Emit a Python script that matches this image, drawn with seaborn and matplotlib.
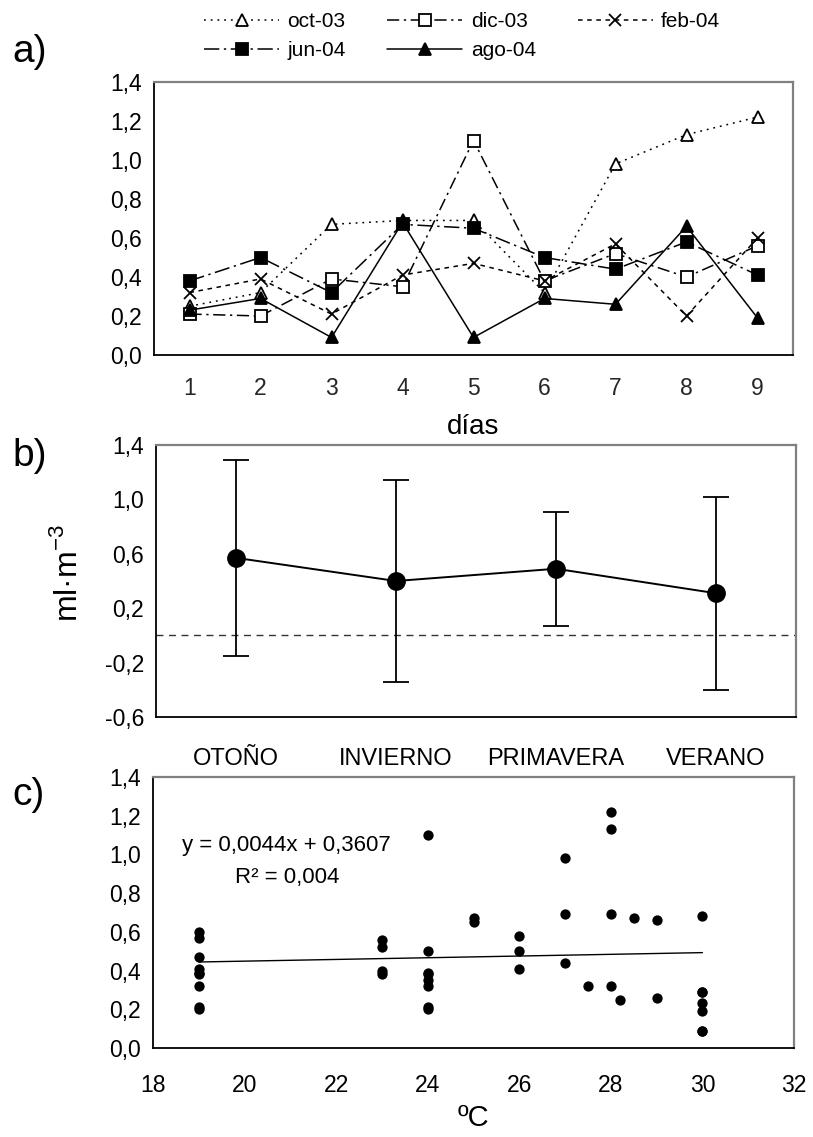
import numpy as np
import pandas as pd
import matplotlib
matplotlib.use("Agg")
import matplotlib.pyplot as plt
from matplotlib.ticker import FuncFormatter, FixedLocator, NullFormatter
import seaborn as sns

# ---- data -------------------------------------------------------------
days = [1, 2, 3, 4, 5, 6, 7, 8, 9]
series_names = ["oct-03", "dic-03", "feb-04", "jun-04", "ago-04"]

oct03 = [0.25, 0.32, 0.67, 0.69, 0.69, 0.32, 0.98, 1.13, 1.22]
dic03 = [0.21, 0.20, 0.39, 0.35, 1.10, 0.38, 0.52, 0.40, 0.56]
feb04 = [0.32, 0.39, 0.21, 0.41, 0.47, 0.38, 0.57, 0.20, 0.60]
jun04 = [0.38, 0.50, 0.32, 0.67, 0.65, 0.50, 0.44, 0.58, 0.41]
ago04 = [0.23, 0.29, 0.09, 0.68, 0.09, 0.29, 0.26, 0.66, 0.19]

# water temperature (ºC) for each sampling day
temp_oct03 = [28.2, 27.5, 28.5, 27, 28, 28, 27, 28, 28]
temp_dic03 = [24, 24, 24, 24, 24, 23, 23, 23, 23]
temp_feb04 = [19, 19, 19, 19, 19, 19, 19, 19, 19]
temp_jun04 = [24, 24, 24, 25, 25, 26, 27, 26, 26]
temp_ago04 = [30, 30, 30, 30, 30, 30, 29, 29, 30]

seasons = ["OTOÑO", "INVIERNO", "PRIMAVERA", "VERANO"]
season_mean = [0.57, 0.40, 0.49, 0.31]
season_sd = [0.72, 0.74, 0.42, 0.71]

fit_slope = 0.0044
fit_intercept = 0.3607
fit_r2 = 0.004

yticks_a = [0.0, 0.2, 0.4, 0.6, 0.8, 1.0, 1.2, 1.4]
yticks_b = [-0.6, -0.2, 0.2, 0.6, 1.0, 1.4]
xticks_c = [18, 20, 22, 24, 26, 28, 30, 32]

# ---- style ------------------------------------------------------------
sns.set_theme(style="white")
plt.rcParams["font.family"] = ["Liberation Sans", "DejaVu Sans"]
plt.rcParams["mathtext.fontset"] = "custom"
plt.rcParams["mathtext.rm"] = "Liberation Sans"
plt.rcParams["text.color"] = "black"
plt.rcParams["axes.labelcolor"] = "black"

TICK_FS = 16.5
W, H = 813, 1137
fig = plt.figure(figsize=(W / 100, H / 100), dpi=100)


def px_axes(left, top, right, bottom):
    return fig.add_axes([left / W, 1 - bottom / H, (right - left) / W, (bottom - top) / H])


def comma(v, _pos=None):
    return f"{v:.1f}".replace(".", ",")


def frame(ax):
    for side in ("left", "bottom"):
        ax.spines[side].set_color("black")
        ax.spines[side].set_linewidth(1.3)
    for side in ("top", "right"):
        ax.spines[side].set_color("#808080")
        ax.spines[side].set_linewidth(1.6)
    ax.tick_params(axis="both", which="major", direction="out", length=5, width=1.1,
                   color="black", labelsize=TICK_FS, labelcolor="black")
    ax.set_facecolor("white")
    ax.grid(False)


# ---- a) daily series --------------------------------------------------
ax_a = px_axes(154, 82, 793, 355)
frame(ax_a)

styles = {
    "oct-03": dict(ls=(0, (1.2, 3.2)), marker="^", mfc="white", ms=8.5),
    "dic-03": dict(ls=(0, (8, 3, 1.5, 3)), marker="s", mfc="white", ms=8.5),
    "feb-04": dict(ls=(0, (3, 3)), marker="x", mfc="black", ms=9),
    "jun-04": dict(ls=(0, (10, 3, 1.5, 3)), marker="s", mfc="black", ms=8.5),
    "ago-04": dict(ls="-", marker="^", mfc="black", ms=9),
}
values = {"oct-03": oct03, "dic-03": dic03, "feb-04": feb04, "jun-04": jun04, "ago-04": ago04}

for name in series_names:
    st = styles[name]
    sns.lineplot(x=days, y=values[name], ax=ax_a, color="black", linewidth=1.1,
                 linestyle=st["ls"], marker=st["marker"], markersize=st["ms"],
                 markerfacecolor=st["mfc"], markeredgecolor="black",
                 markeredgewidth=1.3, errorbar=None, label=name)

leg = ax_a.get_legend()
if leg is not None:
    leg.remove()
handles, labels = ax_a.get_legend_handles_labels()
hmap = dict(zip(labels, handles))
order = ["oct-03", "jun-04", "dic-03", "ago-04", "feb-04"]
fig.legend([hmap[k] for k in order], order, ncol=3, frameon=False,
           loc="upper left", bbox_to_anchor=(204 / W, 1 - 12 / H),
           fontsize=15, handlelength=3.6, handletextpad=0.4,
           columnspacing=2.0, labelspacing=0.5, borderpad=0, borderaxespad=0)

ax_a.set_xlim(0.5, 9.5)
ax_a.set_ylim(0, 1.4)
ax_a.yaxis.set_major_locator(FixedLocator(yticks_a))
ax_a.yaxis.set_major_formatter(FuncFormatter(comma))
ax_a.xaxis.set_major_locator(FixedLocator(np.arange(0.5, 10, 1.0)))
ax_a.xaxis.set_major_formatter(NullFormatter())
ax_a.set_xticks(days, [str(d) for d in days], minor=True)
ax_a.tick_params(axis="x", which="minor", length=0, pad=16, labelsize=TICK_FS)
ax_a.set_xlabel("días", fontsize=20)
ax_a.xaxis.set_label_coords(0.5, -0.215)
ax_a.xaxis.label.set_verticalalignment("top")
ax_a.set_ylabel("")

# ---- b) seasonal means --------------------------------------------------
ax_b = px_axes(156, 445, 796, 717)
frame(ax_b)
pos = np.arange(len(seasons))
ax_b.axhline(0, color="#333333", lw=1.0, ls=(0, (5, 4)), zorder=1)
ax_b.errorbar(pos, season_mean, yerr=season_sd, fmt="none", ecolor="black",
              elinewidth=1.3, capsize=9.5, capthick=1.3, zorder=2)
sns.lineplot(x=pos, y=season_mean, ax=ax_b, color="black", linewidth=1.4,
             marker="o", markersize=12.5, markerfacecolor="black",
             markeredgecolor="black", markeredgewidth=1, errorbar=None, zorder=3)
ax_b.set_xlim(-0.5, 3.5)
ax_b.set_ylim(-0.6, 1.4)
ax_b.yaxis.set_major_locator(FixedLocator(yticks_b))
ax_b.yaxis.set_major_formatter(FuncFormatter(comma))
ax_b.set_xticks(pos, seasons)
ax_b.tick_params(axis="x", length=0, pad=22, labelsize=17)
ax_b.set_xlabel("")
ax_b.set_ylabel("ml·m$^{\\mathregular{-3}}$", fontsize=23)
ax_b.yaxis.set_label_coords(-0.113, 0.53)

# ---- c) scatter vs temperature ----------------------------------------
ax_c = px_axes(153, 777, 794, 1048)
frame(ax_c)
temps = np.concatenate([temp_oct03, temp_dic03, temp_feb04, temp_jun04, temp_ago04])
vals = np.concatenate([oct03, dic03, feb04, jun04, ago04])
df_c = pd.DataFrame({"ºC": temps, "ml": vals})
sns.scatterplot(data=df_c, x="ºC", y="ml", ax=ax_c, color="black", s=55,
                edgecolor="black", linewidth=0, zorder=3)
fx = np.array([temps.min(), temps.max()])
ax_c.plot(fx, fit_slope * fx + fit_intercept, color="black", lw=1.0, zorder=2)
ax_c.set_xlim(18, 32)
ax_c.set_ylim(0, 1.4)
ax_c.xaxis.set_major_locator(FixedLocator(xticks_c))
ax_c.yaxis.set_major_locator(FixedLocator(yticks_a))
ax_c.yaxis.set_major_formatter(FuncFormatter(comma))
ax_c.xaxis.set_major_formatter(FuncFormatter(lambda v, p: f"{v:.0f}"))
ax_c.tick_params(axis="x", pad=14)
ax_c.set_ylabel("")
ax_c.set_xlabel("ºC", fontsize=21)
ax_c.xaxis.set_label_coords(0.5, -0.205)
ax_c.xaxis.label.set_verticalalignment("top")

eq = f"y = {fit_slope:.4f}x + {fit_intercept:.4f}".replace(".", ",")
r2 = f"R² = {fit_r2:.3f}".replace(".", ",")
fig.text(182 / W, 1 - 846 / H, eq, fontsize=16, ha="left", va="center")
fig.text(235 / W, 1 - 878 / H, r2, fontsize=16, ha="left", va="center")

# ---- panel letters ----------------------------------------------------
for letter, y in (("a)", 52), ("b)", 456), ("c)", 795)):
    fig.text(12 / W, 1 - y / H, letter, fontsize=28, ha="left", va="center")

fig.savefig("out.png", dpi=100, facecolor="white")
